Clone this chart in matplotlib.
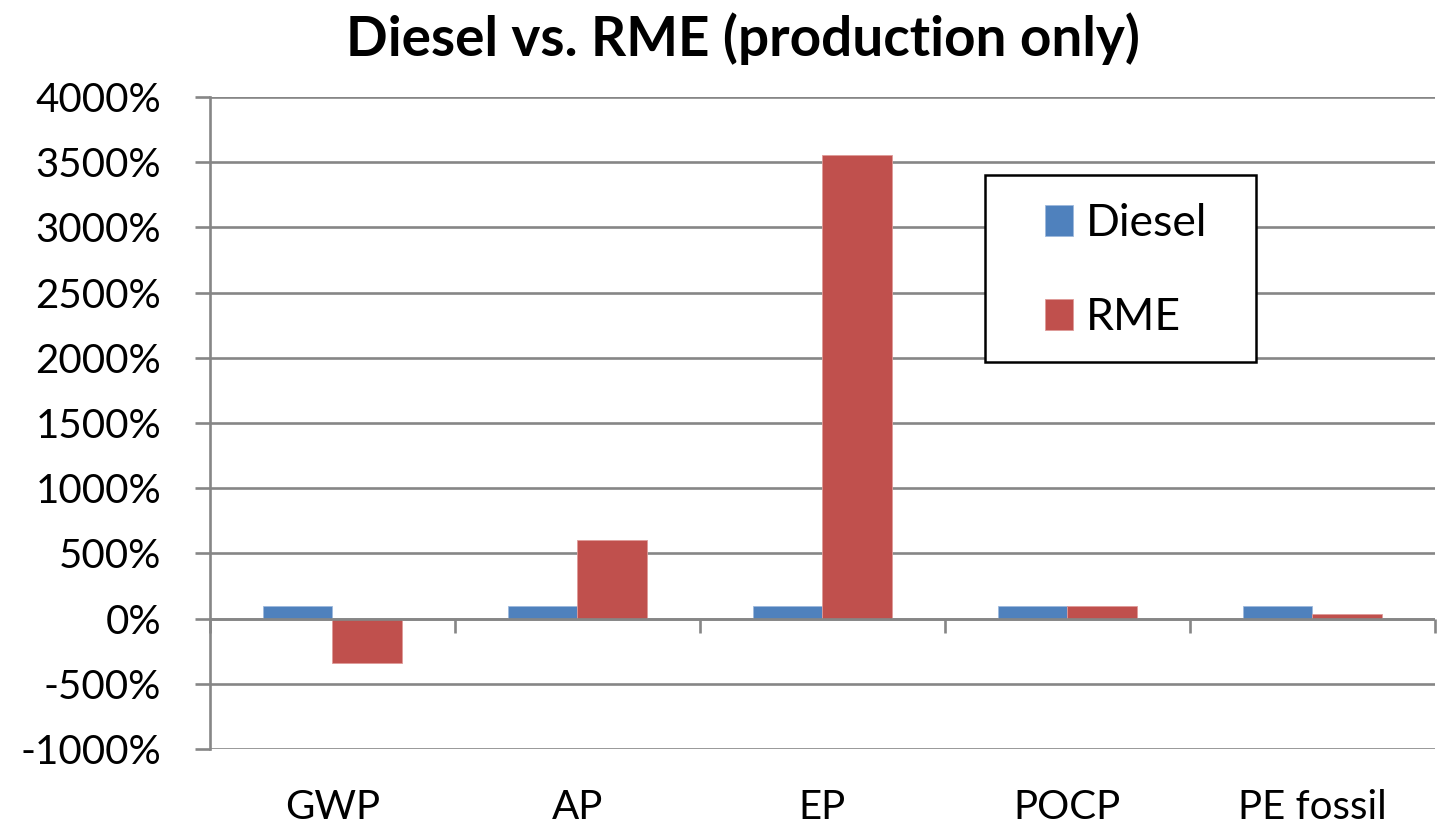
import numpy as np
import matplotlib
matplotlib.use('Agg')
import matplotlib.pyplot as plt
from matplotlib.patches import Rectangle
from matplotlib.ticker import FuncFormatter

# Impact categories and relative results (% of diesel)
categories = ['GWP', 'AP', 'EP', 'POCP', 'PE fossil']
diesel = [100, 100, 100, 100, 100]
rme = [-340, 600, 3555, 100, 34]

plt.rcParams['font.family'] = ['Lato', 'DejaVu Sans']

fig = plt.figure(figsize=(14.37, 8.30), dpi=100)
ax = fig.add_axes([0.1461, 0.0976, 0.8525, 0.7855])

x = np.arange(len(categories))
w = 0.283
grid_color = '#868686'
lw = 1.9

ax.bar(x - w / 2, diesel, w, color='#4F81BD', edgecolor='#9DB9DC', linewidth=0.6, label='Diesel', zorder=3)
ax.bar(x + w / 2, rme, w, color='#C0504D', edgecolor='#DE9A98', linewidth=0.6, label='RME', zorder=3)

ax.set_xlim(-0.5, len(categories) - 0.5)
ax.set_ylim(-1000, 4000)
ax.set_yticks(np.arange(-1000, 4001, 500))
ax.yaxis.set_major_formatter(FuncFormatter(lambda v, p: f'{v:.0f}%'))
ax.yaxis.grid(True, color=grid_color, linewidth=lw, zorder=0)

ax.set_xticks(x)
ax.set_xticklabels(categories)
ax.tick_params(axis='x', length=0, pad=29, labelsize=29)
ax.tick_params(axis='y', direction='out', length=11, width=lw, color=grid_color, pad=24, labelsize=29)

for s in ['top', 'right', 'bottom']:
    ax.spines[s].set_visible(False)
ax.spines['left'].set_color(grid_color)
ax.spines['left'].set_linewidth(lw)

# horizontal category axis crossing at zero
ax.axhline(0, color=grid_color, linewidth=lw, zorder=4)
sec = ax.secondary_xaxis(0, transform=ax.transData)
sec.set_xticks(np.arange(-0.5, len(categories), 1.0))
sec.set_xticklabels([])
sec.tick_params(direction='out', length=10, width=lw, color=grid_color)
sec.spines['bottom'].set_visible(False)

# legend box
ax.add_patch(Rectangle((0.6327, 0.5936), 0.2212, 0.2868, transform=ax.transAxes,
                       facecolor='white', edgecolor='black', linewidth=1.8, zorder=5))
leg = ax.legend(loc='center left', bbox_to_anchor=(0.6816, 0.734), fontsize=32,
                frameon=False, handlelength=0.63, handleheight=0.70, handletextpad=0.29,
                labelspacing=1.2, borderpad=0, borderaxespad=0)
leg.set_zorder(6)

fig.text(0.517, 0.954, 'Diesel vs. RME (production only)', ha='center', va='center',
         fontsize=39.5, fontweight='bold')

fig.savefig('out.png', dpi=100)
